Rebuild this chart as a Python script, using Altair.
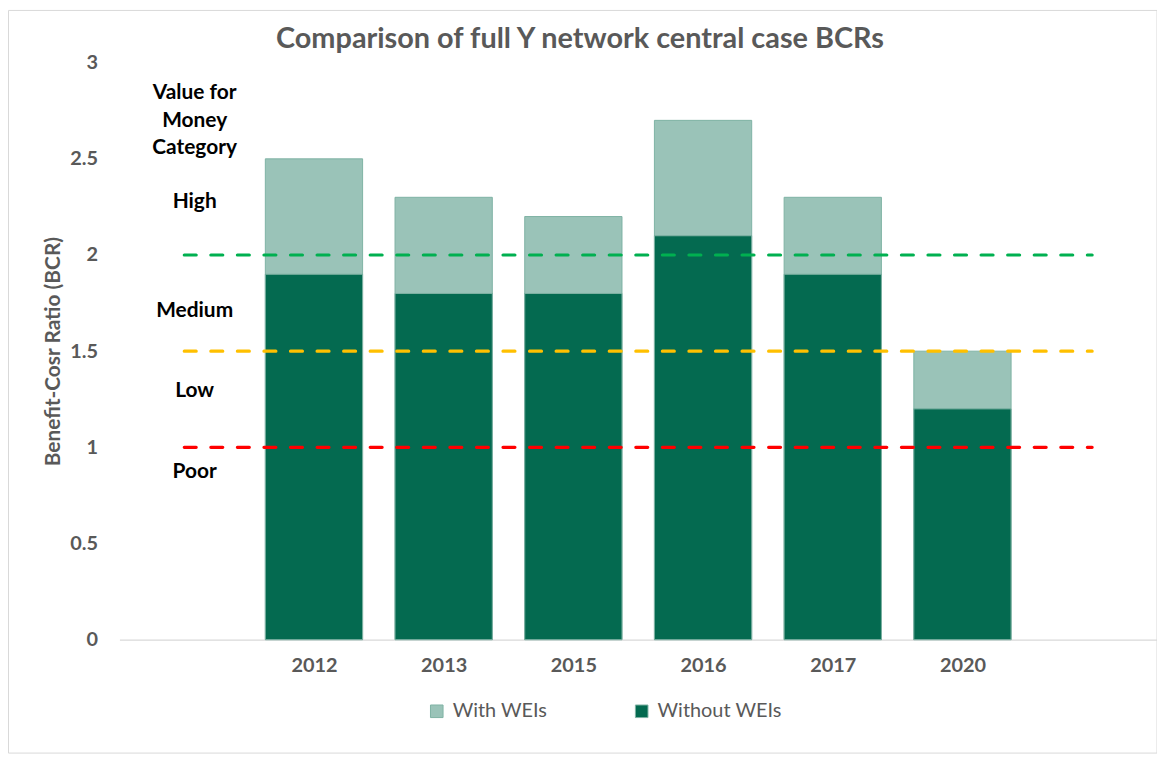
import altair as alt
import pandas as pd

# ---- data ----
years = ["2012", "2013", "2015", "2016", "2017", "2020"]
without_wei = [1.9, 1.8, 1.8, 2.1, 1.9, 1.2]
with_wei = [2.5, 2.3, 2.2, 2.7, 2.3, 1.5]
series = ["With WEIs", "Without WEIs"]
slot_labels = [""] + years + [""]          # category slots on the x axis

thresholds = [2.0, 1.5, 1.0]
threshold_names = ["High/Medium", "Medium/Low", "Low/Poor"]

vfm_labels = ["Value for", "Money", "Category", "High", "Medium", "Low", "Poor"]
vfm_label_y = [2.84, 2.695, 2.555, 2.276, 1.707, 1.293, 0.869]

title_text = "Comparison of full Y network central case BCRs"

# ---- styles ----
FONT = "Lato"
GRAY = "#595959"
LIGHT = "#9AC3B8"
DARK = "#046A50"
BAR_STROKE = "#7FB2A4"
LINE_COLORS = ["#00B050", "#FFC000", "#FF0000"]

W, H = 1043, 580

rows = []
for i, yr in enumerate(years):
    idx = slot_labels.index(yr, 1)
    rows.append({"series": "With WEIs", "year": yr, "idx": idx, "value": with_wei[i]})
    rows.append({"series": "Without WEIs", "year": yr, "idx": idx, "value": without_wei[i]})
bars_df = pd.DataFrame(rows)
bars_df["x0"] = bars_df["idx"] - 0.375
bars_df["x1"] = bars_df["idx"] + 0.375
bars_df["order"] = bars_df["series"].map({"With WEIs": 0, "Without WEIs": 1})

lines_df = pd.DataFrame({
    "name": threshold_names,
    "value": thresholds,
    "x0": [0] * len(thresholds),
    "x1": [len(slot_labels) - 1] * len(thresholds),
})

labels_df = pd.DataFrame({"text": vfm_labels, "y": vfm_label_y, "x": [0.08] * len(vfm_labels)})

label_array = "[" + ",".join("'" + s + "'" for s in slot_labels) + "]"

xscale = alt.Scale(domain=[-0.5, len(slot_labels) - 0.5], nice=False, zero=False)
yscale = alt.Scale(domain=[0, 3], nice=False)

x_axis = alt.Axis(
    values=list(range(1, len(slot_labels) - 1)),
    labelExpr=label_array + "[datum.value]",
    title=None, ticks=False, grid=False,
    domainColor="#D9D9D9", domainWidth=1.2,
    labelFont=FONT, labelFontSize=20, labelFontWeight="bold", labelColor=GRAY,
    labelPadding=16,
)
y_axis = alt.Axis(
    values=[0, 0.5, 1, 1.5, 2, 2.5, 3], format="~g",
    title="Benefit-Cosr Ratio (BCR)", domain=False, ticks=False, grid=False,
    labelFont=FONT, labelFontSize=20, labelFontWeight="bold", labelColor=GRAY,
    labelPadding=22,
    titleFont=FONT, titleFontSize=21, titleFontWeight="bold", titleColor=GRAY,
    titleAngle=-90, titleX=-66, titleY=H / 2, titleAlign="center", titleBaseline="middle",
)

bars = alt.Chart(bars_df).mark_bar(stroke=BAR_STROKE, strokeWidth=1).encode(
    x=alt.X("x0:Q", scale=xscale, axis=x_axis),
    x2="x1:Q",
    y=alt.Y("value:Q", scale=yscale, axis=y_axis),
    y2=alt.datum(0),
    color=alt.Color("series:N", scale=alt.Scale(domain=series, range=[LIGHT, DARK]),
                    legend=alt.Legend(
                        orient="none", legendX=309, legendY=642, direction="horizontal",
                        title=None, symbolType="square", symbolSize=160,
                        symbolStrokeColor=BAR_STROKE, symbolStrokeWidth=1,
                        labelFont=FONT, labelFontSize=20, labelColor=GRAY,
                        symbolOffset=0, labelOffset=6, columnPadding=84,
                    )),
    order=alt.Order("order:Q"),
)

rules = alt.Chart(lines_df).mark_rule(strokeWidth=3.2, strokeDash=[12, 14.7], strokeCap="round").encode(
    x=alt.X("x0:Q", scale=xscale),
    x2="x1:Q",
    y=alt.Y("value:Q", scale=yscale),
    stroke=alt.Stroke("name:N", scale=alt.Scale(domain=threshold_names, range=LINE_COLORS), legend=None),
)

texts = alt.Chart(labels_df).mark_text(
    font=FONT, fontSize=21, fontWeight="bold", color="black", align="center", baseline="middle"
).encode(
    x=alt.X("x:Q", scale=xscale),
    y=alt.Y("y:Q", scale=yscale),
    text="text:N",
)

title = alt.Chart(pd.DataFrame({"t": [title_text]})).mark_text(
    font=FONT, fontSize=29, fontWeight="bold", color=GRAY, align="center", baseline="middle"
).encode(
    x=alt.value(463), y=alt.value(-24), text="t:N",
)

frame = alt.Chart(pd.DataFrame({"a": [0]})).mark_rect(fill=None, stroke="#D9D9D9", strokeWidth=1).encode(
    x=alt.value(-111.5), x2=alt.value(W), y=alt.value(-52.5), y2=alt.value(694),
)

chart = alt.layer(frame, bars, rules, texts, title).properties(
    width=W, height=H,
    autosize=alt.AutoSizeParams(type="none"),
    padding={"left": 112, "top": 53, "right": 0, "bottom": 117},
).configure_view(stroke=None)

chart.save("out.html", embed_options={"renderer": "svg", "actions": False})
